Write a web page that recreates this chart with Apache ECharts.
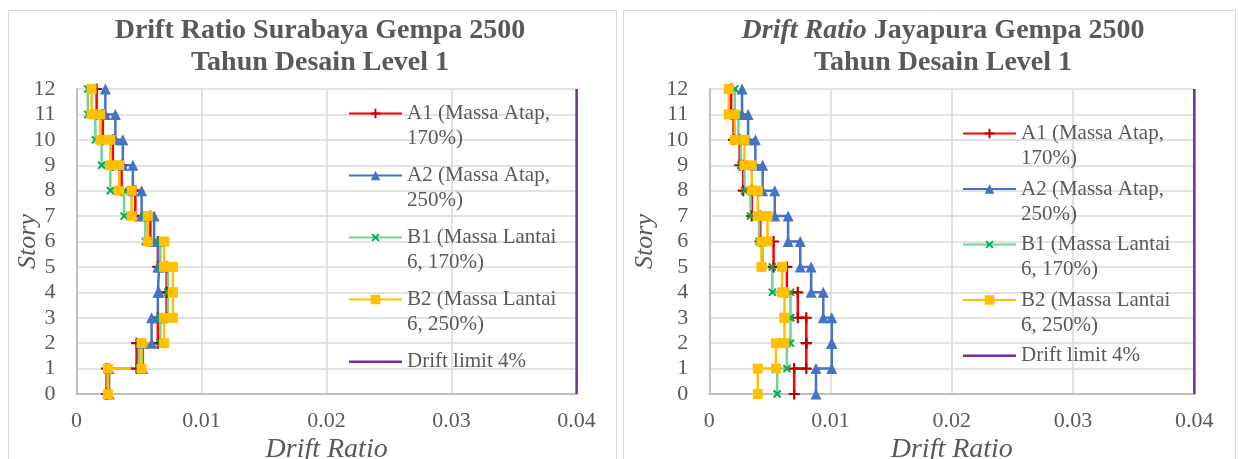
<!DOCTYPE html>
<html>
<head>
<meta charset="utf-8">
<script src="https://cdn.jsdelivr.net/npm/echarts@6/dist/echarts.min.js"></script>
<style>
  html, body { margin: 0; padding: 0; background: #fff; }
  #chart { width: 1238px; height: 459px; }
</style>
</head>
<body>
<div id="chart"></div>
<script>
// drift ratio per story (story 1 .. 12)
var sbyA1 = [0.0024, 0.0048, 0.0065, 0.0072, 0.0072, 0.0065, 0.0059, 0.0047, 0.0036, 0.0029, 0.0021, 0.0016]
var sbyA2 = [0.0026, 0.0053, 0.0060, 0.0065, 0.0066, 0.0065, 0.0062, 0.0052, 0.0045, 0.0037, 0.0031, 0.0023]
var sbyB1 = [0.0025, 0.0050, 0.0067, 0.0073, 0.0073, 0.0067, 0.0055, 0.0038, 0.0027, 0.0020, 0.0015, 0.0009]
var sbyB2 = [0.0025, 0.0052, 0.0070, 0.0077, 0.0077, 0.0070, 0.0057, 0.0044, 0.0034, 0.0027, 0.0019, 0.0012]

var jprA1 = [0.0070, 0.0080, 0.0080, 0.0073, 0.0064, 0.0053, 0.0042, 0.0035, 0.0028, 0.0025, 0.0020, 0.0018]
var jprA2 = [0.0088, 0.0101, 0.0101, 0.0094, 0.0084, 0.0075, 0.0065, 0.0054, 0.0044, 0.0038, 0.0032, 0.0027]
var jprB1 = [0.0056, 0.0064, 0.0067, 0.0067, 0.0052, 0.0044, 0.0041, 0.0034, 0.0029, 0.0026, 0.0024, 0.0021]
var jprB2 = [0.0040, 0.0055, 0.0062, 0.0062, 0.0060, 0.0043, 0.0048, 0.0040, 0.0035, 0.0029, 0.0021, 0.0016]

var driftLimit = 0.04
var topStory = 12

var seriesNames = ['A1 (Massa Atap, 170%)', 'A2 (Massa Atap, 250%)', 'B1 (Massa Lantai 6, 170%)', 'B2 (Massa Lantai 6, 250%)', 'Drift limit 4%']
// empty line on top keeps the first text line level with the legend icon
var legendLabels = ['\nA1 (Massa Atap,\n170%)', '\nA2 (Massa Atap,\n250%)', '\nB1 (Massa Lantai\n6, 170%)', '\nB2 (Massa Lantai\n6, 250%)', '\nDrift limit 4%\n']

var FONT = 'Liberation Serif'
var TXT = '#595959'
var PLUS = 'path://M4,0H6V4H10V6H6V10H4V6H0V4H4Z'
// plain bar for the drift-limit legend entry (corner specks fix the box)
var BAR = 'path://M0,0L0.01,0L0,0.01Z M0,5H53V7.5H0Z M53,12L52.99,12L53,11.99Z'

var looks = [
  { line: '#FF0000', symbol: PLUS, symColor: '#C00000', size: 11, rotate: 0 },
  { line: '#4472C4', symbol: 'triangle', symColor: '#4472C4', size: 11, rotate: 0 },
  { line: '#6FD39B', symbol: PLUS, symColor: '#00B050', size: 10, rotate: 45 },
  { line: '#FFC000', symbol: 'rect', symColor: '#FFC000', size: 10, rotate: 0 }
]

// every story is drawn as a step: vertical at its drift, from floor to floor
function stepPoints (drifts) {
  var pts = []
  drifts.forEach(function (d, i) {
    pts.push([d, i])
    pts.push([d, i + 1])
  })
  return pts
}

function buildSeries (idx, sets) {
  var out = sets.map(function (arr, k) {
    var lk = looks[k]
    return {
      name: seriesNames[k],
      type: 'line',
      xAxisIndex: idx,
      yAxisIndex: idx,
      data: stepPoints(arr),
      symbol: lk.symbol,
      symbolSize: lk.size,
      symbolRotate: lk.rotate,
      showAllSymbol: true,
      clip: false,
      lineStyle: { color: lk.line, width: 2.5 },
      itemStyle: { color: lk.symColor, borderWidth: 0 },
      animation: false
    }
  })
  out.push({
    name: seriesNames[4],
    type: 'line',
    xAxisIndex: idx,
    yAxisIndex: idx,
    data: [[driftLimit, 0], [driftLimit, topStory]],
    symbol: 'none',
    lineStyle: { color: '#7030A0', width: 2.5 },
    itemStyle: { color: '#7030A0' },
    animation: false
  })
  return out
}

function xAxisFor (idx) {
  return {
    gridIndex: idx,
    type: 'value',
    min: 0,
    max: 0.04,
    interval: 0.01,
    name: 'Drift Ratio',
    nameLocation: 'middle',
    nameGap: 42,
    nameMoveOverlap: false,
    nameTextStyle: { fontFamily: FONT, fontStyle: 'italic', fontSize: 28, color: TXT },
    axisLine: { show: true, onZero: false, lineStyle: { color: '#BFBFBF', width: 2 } },
    axisTick: { show: false },
    splitLine: { show: true, lineStyle: { color: '#D9D9D9', width: 1.5 } },
    axisLabel: {
      margin: 16,
      fontFamily: FONT,
      fontSize: 22,
      color: TXT,
      formatter: function (v) { return v === 0 ? '0' : v.toFixed(2) }
    }
  }
}

function yAxisFor (idx, gap) {
  return {
    gridIndex: idx,
    type: 'value',
    min: 0,
    max: topStory,
    interval: 1,
    name: 'Story',
    nameLocation: 'middle',
    nameGap: gap,
    nameRotate: 90,
    nameMoveOverlap: false,
    nameTextStyle: { fontFamily: FONT, fontStyle: 'italic', fontSize: 26, color: TXT },
    axisLine: { show: true, onZero: false, lineStyle: { color: '#BFBFBF', width: 2 } },
    axisTick: { show: false },
    splitLine: { show: true, lineStyle: { color: '#D9D9D9', width: 1.5 } },
    axisLabel: { margin: 21, fontFamily: FONT, fontSize: 22, color: TXT }
  }
}

function legendFor (left, top, gap) {
  return {
    orient: 'vertical',
    left: left,
    top: top,
    padding: 0,
    itemGap: gap,
    itemWidth: 53,
    itemHeight: 12,
    data: seriesNames.map(function (n, k) {
      var item = { name: n }
      if (k === 4) item.icon = BAR
      return item
    }),
    textStyle: {
      fontFamily: FONT,
      fontSize: 21,
      color: TXT,
      lineHeight: 25,
      backgroundColor: 'transparent'
    },
    formatter: function (n) { return legendLabels[seriesNames.indexOf(n)] },
    selectedMode: false
  }
}

var titleStyle = { fontFamily: FONT, fontSize: 28, fontWeight: 'bold', color: TXT, lineHeight: 32 }

var chart = echarts.init(document.getElementById('chart'), null, { renderer: 'canvas' })
var leftSeries = buildSeries(0, [sbyA1, sbyA2, sbyB1, sbyB2])
var rightSeries = buildSeries(1, [jprA1, jprA2, jprB1, jprB2])

chart.setOption({
  backgroundColor: '#fff',
  animation: false,
  graphic: [
    { type: 'rect', z: -10, silent: true, shape: { x: 8.5, y: 10.5, width: 608, height: 470 }, style: { fill: 'none', stroke: '#D9D9D9', lineWidth: 1 } },
    { type: 'rect', z: -10, silent: true, shape: { x: 623.5, y: 10.5, width: 612, height: 470 }, style: { fill: 'none', stroke: '#D9D9D9', lineWidth: 1 } }
  ],
  title: [
    {
      text: 'Drift Ratio Surabaya Gempa 2500\nTahun Desain Level 1',
      left: 320,
      top: 15,
      padding: 0,
      textAlign: 'center',
      textStyle: titleStyle
    },
    {
      text: '{i|Drift Ratio} Jayapura Gempa 2500\nTahun Desain Level 1',
      left: 943,
      top: 15,
      padding: 0,
      textAlign: 'center',
      textStyle: Object.assign({}, titleStyle, {
        rich: { i: Object.assign({}, titleStyle, { fontStyle: 'italic' }) }
      })
    }
  ],
  grid: [
    { left: 76.6, top: 89, width: 500, height: 305, outerBoundsMode: 'none', containLabel: false },
    { left: 709.3, top: 89, width: 485, height: 305, outerBoundsMode: 'none', containLabel: false }
  ],
  xAxis: [xAxisFor(0), xAxisFor(1)],
  yAxis: [yAxisFor(0, 35), yAxisFor(1, 51)],
  legend: [
    legendFor(348, 76, -13),
    legendFor(962, 96, -19.5)
  ],
  series: leftSeries.concat(rightSeries)
})
</script>
</body>
</html>
